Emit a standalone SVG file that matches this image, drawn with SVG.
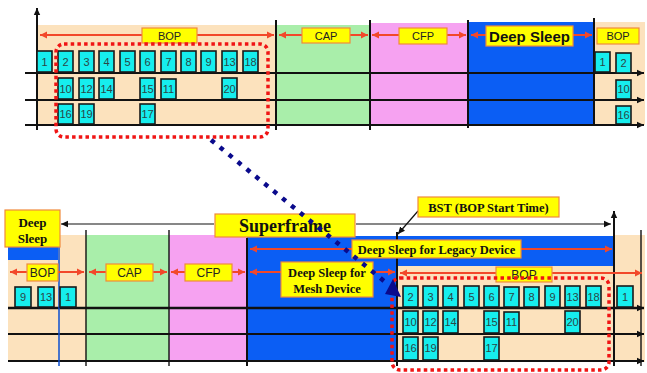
<svg xmlns="http://www.w3.org/2000/svg" width="647" height="373" viewBox="0 0 647 373">
<style>
.pe{fill:#fce2bd}.gr{fill:#a9eeaa}.pk{fill:#f6a2f1}.bl{fill:#0b5ef4}
.ax{stroke:#111;stroke-width:2;fill:none}
.ax2{stroke:#111;stroke-width:1.4;fill:none}
.ra{stroke:#f2482a;stroke-width:2;fill:none;marker-end:url(#rh)}
.lb{fill:#ffff00;stroke:#f08a3c;stroke-width:1.2}
.cb rect{fill:#16eeee;stroke:#1a1a1a;stroke-width:1.6}
.cb text{font-family:"Liberation Sans",Arial,sans-serif;font-size:11px;fill:#2b4646;text-anchor:middle}
.st{font-family:"Liberation Sans",Arial,sans-serif;font-size:11px;fill:#222;text-anchor:middle}
.sr{font-family:"Liberation Serif","Times New Roman",serif;font-weight:bold;fill:#111;text-anchor:middle}
.rd{fill:none;stroke:#f01414;stroke-width:3.5;stroke-dasharray:3.5 3.2}
</style>
<defs>
<marker id="rh" markerUnits="userSpaceOnUse" markerWidth="8" markerHeight="8" refX="7" refY="4" orient="auto-start-reverse"><path d="M0,0.5 L7,4 L0,7.5 Z" fill="#f2482a"/></marker>
<marker id="kh" markerUnits="userSpaceOnUse" markerWidth="8" markerHeight="8" refX="7" refY="4" orient="auto-start-reverse"><path d="M0,0.8 L7,4 L0,7.2 Z" fill="#111"/></marker>
</defs>

<!-- TOP DIAGRAM backgrounds -->
<g id="top-bg">
<rect class="pe" x="37" y="25" width="239" height="100"/>
<rect class="gr" x="276" y="25" width="94" height="100"/>
<rect class="pk" x="370" y="23" width="98" height="102"/>
<rect class="bl" x="468" y="22" width="126" height="103"/>
<rect class="pe" x="594" y="22" width="51" height="103"/>
</g>
<g id="top-axes">
<line class="ax" x1="25" y1="73" x2="644" y2="73" marker-end="url(#kh)"/>
<line class="ax" x1="25" y1="100" x2="644" y2="100" marker-end="url(#kh)"/>
<line class="ax" x1="25" y1="125" x2="644" y2="125" marker-end="url(#kh)"/>
<line class="ax" x1="37" y1="130" x2="37" y2="8" marker-end="url(#kh)"/>
<line class="ax" x1="276" y1="20" x2="276" y2="130"/>
<line class="ax" x1="370" y1="20" x2="370" y2="130"/>
<line class="ax" x1="468" y1="20" x2="468" y2="128"/>
<line class="ax" x1="594" y1="18" x2="594" y2="125"/>
</g>
<g id="top-arrows">
<line class="ra" x1="142" y1="35" x2="40" y2="35"/>
<line class="ra" x1="197" y1="35" x2="274" y2="35"/>
<line class="ra" x1="302" y1="35" x2="279" y2="35"/>
<line class="ra" x1="350" y1="35" x2="368" y2="35"/>
<line class="ra" x1="399" y1="35" x2="372" y2="35"/>
<line class="ra" x1="447" y1="35" x2="466" y2="35"/>
<line class="ra" x1="486" y1="35" x2="471" y2="35"/>
<line class="ra" x1="573" y1="35" x2="592" y2="35"/>
</g>
<g id="top-bop"><rect class="lb" x="142" y="28" width="55" height="15"/><text class="st" x="169.5" y="40">BOP</text></g>
<g id="top-cap"><rect class="lb" x="302" y="28" width="48" height="15"/><text class="st" x="326" y="40">CAP</text></g>
<g id="top-cfp"><rect class="lb" x="399" y="28" width="48" height="16"/><text class="st" x="423" y="40">CFP</text></g>
<g id="top-deepsleep"><rect class="lb" x="486" y="26" width="87" height="20"/><text class="st" x="529.5" y="41.5" style="font-size:15px;font-weight:bold;fill:#111">Deep Sleep</text></g>
<g id="top-bop2"><rect class="lb" x="597" y="28" width="42" height="16"/><text class="st" x="618" y="40">BOP</text></g>

<g id="top-slots" class="cb">
<rect x="37" y="51" width="15" height="21"/><text x="44.5" y="66">1</text>
<rect x="58" y="51" width="15" height="21"/><text x="65.5" y="66">2</text>
<rect x="79" y="51" width="15" height="21"/><text x="86.5" y="66">3</text>
<rect x="99" y="51" width="15" height="21"/><text x="106.5" y="66">4</text>
<rect x="120" y="51" width="15" height="21"/><text x="127.5" y="66">5</text>
<rect x="140" y="51" width="15" height="21"/><text x="147.5" y="66">6</text>
<rect x="161" y="51" width="15" height="21"/><text x="168.5" y="66">7</text>
<rect x="181" y="51" width="15" height="21"/><text x="188.5" y="66">8</text>
<rect x="201" y="51" width="15" height="21"/><text x="208.5" y="66">9</text>
<rect x="222" y="51" width="15" height="21"/><text x="229.5" y="66">13</text>
<rect x="243" y="51" width="15" height="21"/><text x="250.5" y="66">18</text>
<rect x="58" y="78" width="15" height="21"/><text x="65.5" y="93">10</text>
<rect x="79" y="78" width="15" height="21"/><text x="86.5" y="93">12</text>
<rect x="99" y="78" width="15" height="21"/><text x="106.5" y="93">14</text>
<rect x="140" y="78" width="15" height="21"/><text x="147.5" y="93">15</text>
<rect x="161" y="79" width="15" height="20"/><text x="168.5" y="93">11</text>
<rect x="222" y="78" width="15" height="21"/><text x="229.5" y="93">20</text>
<rect x="58" y="104" width="15" height="20"/><text x="65.5" y="118">16</text>
<rect x="79" y="104" width="15" height="20"/><text x="86.5" y="118">19</text>
<rect x="140" y="104" width="15" height="20"/><text x="147.5" y="118">17</text>
<rect x="595" y="52" width="15" height="20"/><text x="602.5" y="66">1</text>
<rect x="616" y="53" width="15" height="20"/><text x="623.5" y="67">2</text>
<rect x="616" y="80" width="15" height="19"/><text x="623.5" y="93">10</text>
<rect x="616" y="106" width="15" height="18"/><text x="623.5" y="119">16</text>
</g>
<g id="top-group"><rect class="rd" x="56" y="44" width="212" height="93" rx="8"/></g>

<!-- BOTTOM DIAGRAM backgrounds -->
<g id="bottom-bg">
<rect class="pe" x="8" y="235" width="78" height="127"/>
<rect class="bl" x="8" y="247" width="50" height="13"/>
<rect class="gr" x="86" y="235" width="83" height="127"/>
<rect class="pk" x="169" y="235" width="78" height="127"/>
<rect class="bl" x="247" y="236" width="367" height="126"/>
<rect class="pe" x="397" y="266" width="217" height="96"/>
<rect class="pe" x="614" y="235" width="31" height="127"/>
</g>
<g id="bottom-axes">
<line class="ax" x1="8" y1="308" x2="644" y2="308" marker-end="url(#kh)" style="stroke-width:2.6"/>
<line class="ax" x1="8" y1="334" x2="644" y2="334" marker-end="url(#kh)"/>
<line class="ax" x1="8" y1="361" x2="644" y2="361" marker-end="url(#kh)"/>
<line x1="59" y1="247" x2="59" y2="366" stroke="#0b4ed0" stroke-width="1.5"/>
<line class="ax2" x1="86" y1="230" x2="86" y2="366"/>
<line class="ax2" x1="169" y1="230" x2="169" y2="366"/>
<line class="ax" x1="247" y1="238" x2="247" y2="366"/>
<line class="ax" x1="397" y1="232" x2="397" y2="366"/>
<line class="ax" x1="614" y1="366" x2="614" y2="211" marker-end="url(#kh)"/>
<line class="ax2" x1="641" y1="230" x2="641" y2="366"/>
</g>
<g id="connectors">
<line class="ax2" x1="214" y1="224" x2="61" y2="224" marker-end="url(#kh)" style="stroke-width:1.2"/>
<line class="ax2" x1="356" y1="224" x2="611" y2="224" marker-end="url(#kh)" style="stroke-width:1.2"/>
<line class="ax2" x1="418" y1="211" x2="398" y2="234" marker-end="url(#kh)" style="stroke-width:1.2"/>
<line class="ra" x1="352" y1="249" x2="250" y2="249"/>
<line class="ra" x1="521" y1="249" x2="612" y2="249"/>
<line class="ra" x1="27" y1="272" x2="10" y2="272"/>
<line class="ra" x1="58" y1="272" x2="84" y2="272"/>
<line class="ra" x1="106" y1="272" x2="89" y2="272"/>
<line class="ra" x1="153" y1="272" x2="167" y2="272"/>
<line class="ra" x1="185" y1="272" x2="171" y2="272"/>
<line class="ra" x1="232" y1="272" x2="245" y2="272"/>
<line class="ra" x1="281" y1="272" x2="250" y2="272"/>
<line class="ra" x1="373" y1="272" x2="395" y2="272"/>
<line class="ra" x1="496" y1="273" x2="400" y2="273"/>
<line class="ra" x1="552" y1="273" x2="642" y2="273"/>
</g>

<g id="bottom-deepsleep"><rect class="lb" x="5" y="210" width="55" height="37"/><text class="sr" x="32.5" y="227" style="font-size:13px">Deep</text><text class="sr" x="32.5" y="243" style="font-size:13px">Sleep</text></g>
<g id="bottom-bop"><rect class="lb" x="27" y="264" width="31" height="17"/><text class="st" x="42.5" y="277" style="font-size:12px">BOP</text></g>
<g id="bottom-cap"><rect class="lb" x="106" y="264" width="47" height="17"/><text class="st" x="129.5" y="277" style="font-size:12px">CAP</text></g>
<g id="bottom-cfp"><rect class="lb" x="185" y="264" width="47" height="17"/><text class="st" x="208.5" y="277" style="font-size:12px">CFP</text></g>
<g id="superframe"><rect class="lb" x="215" y="214" width="140" height="23"/><text class="sr" x="285" y="232" style="font-size:18px">Superframe</text></g>
<g id="bst"><rect class="lb" x="418" y="197" width="141" height="20"/><text class="sr" x="488.5" y="212" style="font-size:12.5px">BST (BOP Start Time)</text></g>
<g id="legacy"><rect class="lb" x="352" y="240" width="169" height="18"/><text class="sr" x="436.5" y="253.5" style="font-size:12.5px">Deep Sleep for Legacy Device</text></g>
<g id="mesh"><rect class="lb" x="281" y="262" width="92" height="35"/><text class="sr" x="327" y="277" style="font-size:12.5px">Deep Sleep for</text><text class="sr" x="327" y="293" style="font-size:12.5px">Mesh Device</text></g>
<g id="bottom-bop2"><rect class="lb" x="496" y="267" width="56" height="15"/><text class="st" x="524" y="279" style="font-size:12px">BOP</text></g>

<g id="bottom-slots" class="cb">
<rect x="15" y="287" width="16" height="20"/><text x="23" y="301">9</text>
<rect x="38" y="287" width="16" height="20"/><text x="46" y="301">13</text>
<rect x="60" y="287" width="16" height="20"/><text x="68" y="301">1</text>
<rect x="403" y="286" width="15" height="21"/><text x="410.5" y="301">2</text>
<rect x="423" y="286" width="15" height="21"/><text x="430.5" y="301">3</text>
<rect x="443" y="286" width="15" height="21"/><text x="450.5" y="301">4</text>
<rect x="464" y="286" width="15" height="21"/><text x="471.5" y="301">5</text>
<rect x="484" y="286" width="15" height="21"/><text x="491.5" y="301">6</text>
<rect x="504" y="287" width="15" height="20"/><text x="511.5" y="301">7</text>
<rect x="524" y="287" width="15" height="20"/><text x="531.5" y="301">8</text>
<rect x="545" y="286" width="15" height="21"/><text x="552.5" y="301">9</text>
<rect x="565" y="286" width="15" height="21"/><text x="572.5" y="301">13</text>
<rect x="586" y="286" width="15" height="21"/><text x="593.5" y="301">18</text>
<rect x="617" y="286" width="16" height="21"/><text x="625" y="301">1</text>
<rect x="403" y="311" width="15" height="22"/><text x="410.5" y="326">10</text>
<rect x="423" y="311" width="15" height="22"/><text x="430.5" y="326">12</text>
<rect x="443" y="311" width="15" height="22"/><text x="450.5" y="326">14</text>
<rect x="484" y="311" width="15" height="22"/><text x="491.5" y="326">15</text>
<rect x="504" y="312" width="15" height="21"/><text x="511.5" y="326">11</text>
<rect x="565" y="311" width="15" height="22"/><text x="572.5" y="326">20</text>
<rect x="403" y="337" width="15" height="23"/><text x="410.5" y="352">16</text>
<rect x="423" y="337" width="15" height="23"/><text x="430.5" y="352">19</text>
<rect x="484" y="337" width="15" height="23"/><text x="491.5" y="352">17</text>
</g>
<g id="bottom-group"><rect class="rd" x="392" y="278" width="217" height="92" rx="8"/></g>

<g id="zoom-link">
<line x1="211" y1="140" x2="384" y2="281" stroke="#0a0a8c" stroke-width="4.5" stroke-dasharray="4.5 7"/>
<polygon points="393,279 385,294 401,297" fill="#0a0a8c"/>
</g>
</svg>
